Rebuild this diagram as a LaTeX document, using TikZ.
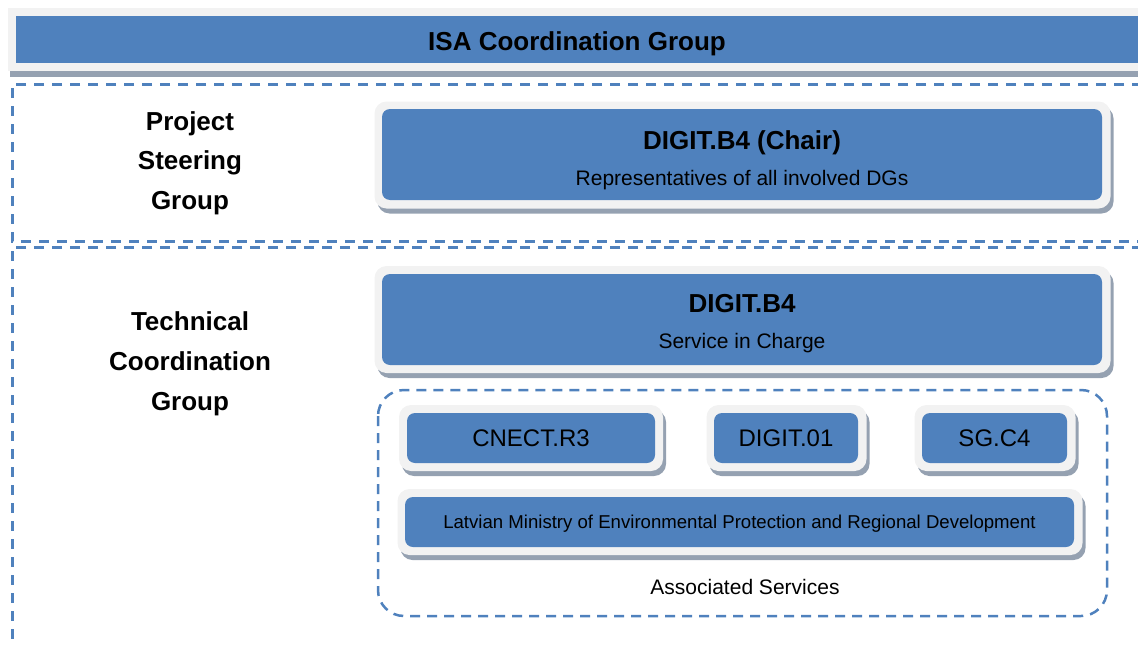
\documentclass[tikz,border=0pt]{standalone}
\usepackage{fontspec}
\setmainfont{Liberation Sans}
\usetikzlibrary{shadows}
\definecolor{boxblue}{HTML}{4F81BD}
\definecolor{framegray}{HTML}{F2F2F2}
\definecolor{shadegray}{HTML}{95A1B1}
\tikzset{
  frame/.style={fill=framegray, rounded corners=12pt, inner sep=0pt,
    drop shadow={shadow xshift=3pt, shadow yshift=-5pt, fill=shadegray, opacity=1}},
  bluebox/.style={fill=boxblue, rounded corners=8pt, inner sep=0pt, text=black},
  regionline/.style={draw=boxblue, line width=3pt, dash pattern=on 10pt off 8pt},
  grouplabel/.style={font=\fontsize{26}{30}\selectfont\bfseries, anchor=base, inner sep=0pt},
  titletext/.style={font=\fontsize{26}{30}\selectfont\bfseries, anchor=base, inner sep=0pt},
  subtext/.style={font=\fontsize{21}{25}\selectfont, anchor=base, inner sep=0pt},
  smallbox/.style={bluebox, font=\fontsize{24}{28}\selectfont, text height=17.2pt, text depth=0pt, minimum height=50pt},
}
\begin{document}
\begin{tikzpicture}[x=1pt,y=-1pt]
\useasboundingbox (0,0) rectangle (1138,645);

% region frames
\draw[regionline] (1160,84) -- (12,84) -- (12,241) -- (1160,241);
\draw[regionline] (1160,247) -- (12,247) -- (12,700);

% top bar
\node[fill=framegray, inner sep=0pt, minimum width=1140pt, minimum height=63pt, anchor=north west,
  drop shadow={shadow xshift=2pt, shadow yshift=-6pt, fill=shadegray, opacity=1}] (isaF) at (8,8) {};
\node[fill=boxblue, inner sep=0pt, minimum width=1122pt, minimum height=47pt, anchor=north west] (isa) at (16,16) {};
\node[titletext] (isaT) at (577,50) {ISA Coordination Group};

% left labels
\node[grouplabel] (psg1) at (190,130) {Project};
\node[grouplabel] (psg2) at (190,169.5) {Steering};
\node[grouplabel] (psg3) at (190,209) {Group};
\node[grouplabel] (tcg1) at (190,330) {Technical};
\node[grouplabel] (tcg2) at (190,370) {Coordination};
\node[grouplabel] (tcg3) at (190,410) {Group};

% chair box
\node[frame, minimum width=736pt, minimum height=107pt] (chairF) at (742.5,155) {};
\node[bluebox, minimum width=720pt, minimum height=91pt] (chair) at (742,154.5) {};
\node[titletext] (chairT) at (742,149.5) {DIGIT.B4 (Chair)};
\node[subtext] (chairS) at (742,185) {Representatives of all involved DGs};

% service in charge
\node[frame, minimum width=736pt, minimum height=107pt] (svcF) at (742.5,319.5) {};
\node[bluebox, minimum width=720pt, minimum height=91pt] (svc) at (742,319.5) {};
\node[titletext] (svcT) at (742,312.5) {DIGIT.B4};
\node[subtext] (svcS) at (742,348.5) {Service in Charge};

% associated services
\draw[draw=boxblue, line width=2.5pt, dash pattern=on 10pt off 7pt, rounded corners=26pt] (378,390) rectangle (1107,616);
\node[subtext] (assoc) at (745,594.5) {Associated Services};

\node[frame, minimum width=264pt, minimum height=66pt] (cnectF) at (531,438) {};
\node[smallbox, minimum width=248pt] (cnect) at (531,438) {CNECT.R3};

\node[frame, minimum width=160pt, minimum height=66pt] (digF) at (786.5,438) {};
\node[smallbox, minimum width=144pt] (dig) at (786,438) {DIGIT.01};

\node[frame, minimum width=161pt, minimum height=66pt] (sgF) at (995,438) {};
\node[smallbox, minimum width=145pt] (sg) at (994.5,438) {SG.C4};

\node[frame, minimum width=685pt, minimum height=66pt] (latF) at (740,522) {};
\node[bluebox, minimum width=669pt, minimum height=50pt, font=\fontsize{18.6}{22}\selectfont, text height=13.3pt, text depth=0pt] (lat) at (739.5,522) {Latvian Ministry of Environmental Protection and Regional Development};
\end{tikzpicture}
\end{document}
